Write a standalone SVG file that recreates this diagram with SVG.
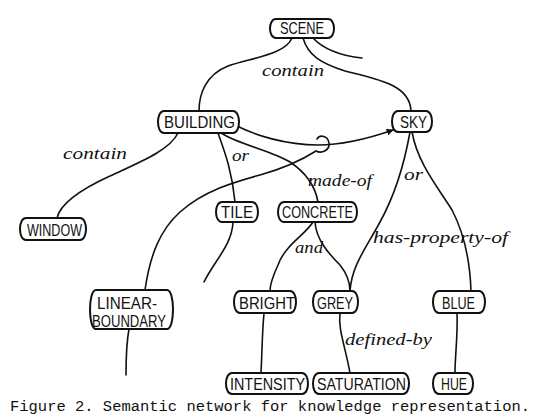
<svg xmlns="http://www.w3.org/2000/svg" width="537" height="418" viewBox="0 0 537 418">
  <defs>
    <style>
      .box { fill: #fff; stroke: #111; stroke-width: 2; }
      .lbl { font-family: "Liberation Sans", Arial, sans-serif; font-size: 17px; fill: #111; text-anchor: start; }
      .rel { font-family: "Liberation Serif", "Times New Roman", serif; font-style: italic; font-size: 17px; fill: #111; }
      .edge { fill: none; stroke: #111; stroke-width: 1.6; stroke-linecap: round; }
      .cap { font-family: "Liberation Mono", "Courier New", monospace; font-size: 15.2px; fill: #111; }
    </style>
    <marker id="arrow" viewBox="0 0 10 10" refX="9" refY="5" markerWidth="7" markerHeight="7" orient="auto" markerUnits="userSpaceOnUse">
      <path d="M0,0 L10,5 L0,10 Z" fill="#111"/>
    </marker>
  </defs>

  <g id="connectors">
    <!-- SCENE contain BUILDING -->
    <path class="edge" d="M292,38 C285,55 250,58 228,66 C205,75 199,95 199,111"/>
    <!-- SCENE contain SKY -->
    <path class="edge" d="M303,38 C308,55 320,63 345,71 C380,80 410,85 411,111"/>
    <!-- SCENE: further branch -->
    <path class="edge" d="M313,38 C322,48 340,56 362,58"/>
    <!-- BUILDING contain WINDOW -->
    <path class="edge" d="M178,133 C170,150 140,162 110,176 C75,192 60,205 57,218"/>
    <!-- BUILDING or TILE -->
    <path class="edge" d="M218,133 C224,150 232,170 235,202"/>
    <!-- TILE: further branch -->
    <path class="edge" d="M233,222 C232,245 215,260 204,282"/>
    <!-- BUILDING made-of CONCRETE -->
    <path class="edge" d="M221,133 C240,145 270,150 290,162 C305,172 315,185 318,202"/>
    <!-- BUILDING to SKY -->
    <path class="edge" d="M237,126 C255,135 285,145 318,145 C345,145 370,138 393,130" marker-end="url(#arrow)"/>
    <!-- LINEAR-BOUNDARY hooking the BUILDING-SKY link -->
    <path class="edge" d="M145,290 C150,255 160,230 180,212 C205,190 235,182 260,175 C285,168 305,158 316,151 C322,154 330,150 329,143 C328,136 320,134 317,139"/>
    <!-- LINEAR-BOUNDARY: further branch -->
    <path class="edge" d="M129,329 C127,340 126,355 126,375"/>
    <!-- CONCRETE and BRIGHT / GREY -->
    <path class="edge" d="M313,222 C305,235 285,245 278,265 C272,278 270,285 270,291"/>
    <path class="edge" d="M315,222 C316,240 330,255 340,265 C348,275 350,285 350,291"/>
    <!-- SKY or / has-property-of GREY and BLUE -->
    <path class="edge" d="M410,132 C405,160 395,195 380,222 C365,250 352,265 350,291"/>
    <path class="edge" d="M412,132 C418,165 440,190 452,210 C465,235 470,260 471,291"/>
    <!-- BRIGHT to INTENSITY -->
    <path class="edge" d="M264,313 C262,335 262,355 261,373"/>
    <!-- GREY defined-by SATURATION -->
    <path class="edge" d="M340,313 C338,330 345,345 350,373"/>
    <!-- BLUE to HUE -->
    <path class="edge" d="M457,313 C458,335 455,355 455,373"/>

    <!-- relation labels -->
    <text class="rel" x="262" y="76" textLength="62" lengthAdjust="spacingAndGlyphs">contain</text>
    <text class="rel" x="63" y="159" textLength="64" lengthAdjust="spacingAndGlyphs">contain</text>
    <text class="rel" x="232" y="161" textLength="17" lengthAdjust="spacingAndGlyphs">or</text>
    <text class="rel" x="308" y="186" textLength="64" lengthAdjust="spacingAndGlyphs">made-of</text>
    <text class="rel" x="404" y="180" textLength="19" lengthAdjust="spacingAndGlyphs">or</text>
    <text class="rel" x="373" y="243" textLength="135" lengthAdjust="spacingAndGlyphs">has-property-of</text>
    <text class="rel" x="295" y="253" textLength="28" lengthAdjust="spacingAndGlyphs">and</text>
    <text class="rel" x="345" y="345" textLength="87" lengthAdjust="spacingAndGlyphs">defined-by</text>
  </g>

  <g id="scene">
    <path class="box" d="M276,19 H328 C336,19 336,38 328,38 H276 C268,38 268,19 276,19 Z"/>
    <text class="lbl" x="280" y="34" textLength="44" lengthAdjust="spacingAndGlyphs">SCENE</text>
  </g>
  <g id="building">
    <path class="box" d="M164,111 H233 C241,111 241,133 233,133 H164 C156,133 156,111 164,111 Z"/>
    <text class="lbl" x="164" y="128" textLength="71" lengthAdjust="spacingAndGlyphs">BUILDING</text>
  </g>
  <g id="sky">
    <path class="box" d="M398,111 H426 C434,111 434,132 426,132 H398 C390,132 390,111 398,111 Z"/>
    <text class="lbl" x="400" y="128" textLength="27" lengthAdjust="spacingAndGlyphs">SKY</text>
  </g>
  <g id="window">
    <path class="box" d="M26,218 H80 C88,218 88,240 80,240 H26 C18,240 18,218 26,218 Z"/>
    <text class="lbl" x="27" y="236" textLength="55" lengthAdjust="spacingAndGlyphs">WINDOW</text>
  </g>
  <g id="tile">
    <path class="box" d="M222,202 H252 C260,202 260,222 252,222 H222 C214,222 214,202 222,202 Z"/>
    <text class="lbl" x="221" y="218" textLength="32" lengthAdjust="spacingAndGlyphs">TILE</text>
  </g>
  <g id="concrete">
    <path class="box" d="M284,202 H351 C359,202 359,222 351,222 H284 C276,222 276,202 284,202 Z"/>
    <text class="lbl" x="282" y="218" textLength="71" lengthAdjust="spacingAndGlyphs">CONCRETE</text>
  </g>
  <g id="linear-boundary">
    <path class="box" d="M96,290 H167 C175,290 175,329 167,329 H96 C88,329 88,290 96,290 Z"/>
    <text class="lbl" x="97" y="309" textLength="60" lengthAdjust="spacingAndGlyphs">LINEAR-</text>
    <text class="lbl" x="92" y="327" textLength="74" lengthAdjust="spacingAndGlyphs">BOUNDARY</text>
  </g>
  <g id="bright">
    <path class="box" d="M240,291 H290 C298,291 298,313 290,313 H240 C232,313 232,291 240,291 Z"/>
    <text class="lbl" x="239" y="309" textLength="56" lengthAdjust="spacingAndGlyphs">BRIGHT</text>
  </g>
  <g id="grey">
    <path class="box" d="M319,291 H352 C360,291 360,313 352,313 H319 C311,313 311,291 319,291 Z"/>
    <text class="lbl" x="317" y="309" textLength="36" lengthAdjust="spacingAndGlyphs">GREY</text>
  </g>
  <g id="blue">
    <path class="box" d="M439,291 H479 C487,291 487,313 479,313 H439 C431,313 431,291 439,291 Z"/>
    <text class="lbl" x="442" y="309" textLength="33" lengthAdjust="spacingAndGlyphs">BLUE</text>
  </g>
  <g id="intensity">
    <path class="box" d="M232,373 H302 C310,373 310,394 302,394 H232 C224,394 224,373 232,373 Z"/>
    <text class="lbl" x="230" y="390" textLength="75" lengthAdjust="spacingAndGlyphs">INTENSITY</text>
  </g>
  <g id="saturation">
    <path class="box" d="M319,373 H403 C411,373 411,394 403,394 H319 C311,394 311,373 319,373 Z"/>
    <text class="lbl" x="317" y="390" textLength="89" lengthAdjust="spacingAndGlyphs">SATURATION</text>
  </g>
  <g id="hue">
    <path class="box" d="M439,373 H467 C475,373 475,394 467,394 H439 C431,394 431,373 439,373 Z"/>
    <text class="lbl" x="441" y="390" textLength="26" lengthAdjust="spacingAndGlyphs">HUE</text>
  </g>

  <text class="cap" x="10" y="411" textLength="520" lengthAdjust="spacingAndGlyphs">Figure 2. Semantic network for knowledge representation.</text>
</svg>
